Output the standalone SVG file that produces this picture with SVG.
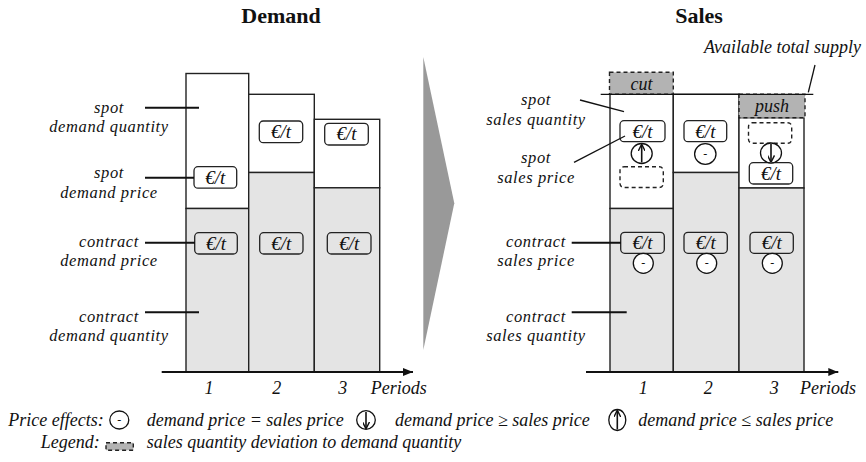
<svg xmlns="http://www.w3.org/2000/svg" width="866" height="462" viewBox="0 0 866 462">
<style>
text{font-family:"Liberation Serif","Times New Roman",serif;fill:#111}
.t{font-size:18px;font-style:italic}
.lb{font-size:16.5px;font-style:italic;letter-spacing:0.6px;text-anchor:middle}
.c{text-anchor:middle}
.h{font-size:22px;font-weight:bold;text-anchor:middle}
.w{fill:#fff;stroke:#222;stroke-width:1.4}
.g{fill:#e4e4e4;stroke:#222;stroke-width:1.4}
.eb{fill:none;stroke:#222;stroke-width:1.3}
.db{fill:none;stroke:#222;stroke-width:1.4;stroke-dasharray:4 3}
.dg{fill:#b3b3b3;stroke:#222;stroke-width:1.4;stroke-dasharray:4 3}
.eu{font-size:19px;font-style:italic;text-anchor:middle}
.ci{fill:#fff;stroke:#111;stroke-width:1.3}
.ax{stroke:#111;stroke-width:2;fill:none}
.ld{stroke:#111;stroke-width:2;fill:none}
.ln{stroke:#111;stroke-width:1.3;fill:none}
.ar{stroke:#111;stroke-width:1.6;fill:none}
.mn{font-size:12px;text-anchor:middle}
</style>
<defs>
<marker id="ah" viewBox="0 0 10 8" refX="10" refY="4" markerWidth="10" markerHeight="8" markerUnits="userSpaceOnUse" orient="auto"><path d="M0,0 L10,4 L0,8 Z" fill="#111"/></marker>
<marker id="sa" viewBox="0 0 8 8" refX="7" refY="4" markerWidth="7" markerHeight="7" markerUnits="userSpaceOnUse" orient="auto"><path d="M0,0 L8,4 L0,8" fill="none" stroke="#111" stroke-width="1.6"/></marker>
</defs>

<text class="h" x="281" y="23">Demand</text>
<text class="h" x="699" y="23">Sales</text>

<g id="demand-bar1">
<rect class="w" x="186" y="73.5" width="62.7" height="135"/>
<rect class="g" x="186" y="208.5" width="62.7" height="163.5"/>
<rect class="eb" x="194" y="166.7" width="42.7" height="21.5" rx="4"/>
<text class="eu" x="215.3" y="183.5">€/t</text>
<rect class="eb" x="194.7" y="232.7" width="42.6" height="21.3" rx="4"/>
<text class="eu" x="216" y="249.5">€/t</text>
</g>
<g id="demand-bar2">
<rect class="w" x="248.7" y="94.3" width="65.6" height="78.2"/>
<rect class="g" x="248.7" y="172.5" width="65.6" height="199.5"/>
<rect class="eb" x="259.3" y="121" width="43.4" height="21.7" rx="4"/>
<text class="eu" x="281" y="138">€/t</text>
<rect class="eb" x="259.7" y="232.7" width="43.3" height="21.3" rx="4"/>
<text class="eu" x="281.3" y="249.5">€/t</text>
</g>
<g id="demand-bar3">
<rect class="w" x="314.3" y="119.3" width="65.4" height="68.5"/>
<rect class="g" x="314.3" y="187.8" width="65.4" height="184.2"/>
<rect class="eb" x="324.7" y="123.3" width="43.6" height="21.7" rx="4"/>
<text class="eu" x="346.5" y="140.3">€/t</text>
<rect class="eb" x="327.3" y="232.7" width="43.7" height="21.3" rx="4"/>
<text class="eu" x="349.2" y="249.5">€/t</text>
</g>
<g id="demand-axis">
<line class="ax" x1="161.7" y1="372" x2="413" y2="372" marker-end="url(#ah)"/>
<text class="t c" x="209" y="394">1</text>
<text class="t c" x="276.7" y="394">2</text>
<text class="t c" x="342.7" y="394">3</text>
<text class="t" x="370.7" y="394">Periods</text>
</g>
<g id="demand-labels">
<text class="lb" x="109" y="113">spot</text>
<text class="lb" x="109" y="132">demand quantity</text>
<text class="lb" x="109" y="178">spot</text>
<text class="lb" x="109" y="198">demand price</text>
<text class="lb" x="109" y="246.5">contract</text>
<text class="lb" x="109" y="265.5">demand price</text>
<text class="lb" x="109" y="322">contract</text>
<text class="lb" x="109" y="341">demand quantity</text>
</g>

<g id="transition-arrow">
<polygon points="423.3,57 454.3,203.3 423.3,350" fill="#999"/>
</g>

<g id="sales-bar1">
<rect class="w" x="610" y="94.3" width="63.3" height="114.2"/>
<rect class="g" x="610" y="208.5" width="63.3" height="163.5"/>
<rect class="dg" x="609.5" y="72.3" width="63.8" height="22"/>
<text class="t c" x="641.4" y="90">cut</text>
<rect class="eb" x="620" y="120.7" width="45" height="21" rx="4"/>
<text class="eu" x="642.5" y="137.5">€/t</text>
<rect class="db" x="620" y="166.7" width="43.3" height="20.8" rx="4"/>
<rect class="eb" x="620.7" y="232.3" width="43.6" height="21" rx="4"/>
<text class="eu" x="642.5" y="249">€/t</text>
</g>
<g id="sales-bar2">
<rect class="w" x="673.3" y="94.3" width="65.7" height="78.2"/>
<rect class="g" x="673.3" y="172.5" width="65.7" height="199.5"/>
<rect class="eb" x="684" y="120.7" width="42.7" height="21" rx="4"/>
<text class="eu" x="705.4" y="137.5">€/t</text>
<rect class="eb" x="684" y="232.3" width="43.3" height="21" rx="4"/>
<text class="eu" x="705.7" y="249">€/t</text>
</g>
<g id="sales-bar3">
<rect class="w" x="739" y="117.7" width="65" height="70.3"/>
<rect class="g" x="739" y="188" width="65" height="184"/>
<rect class="dg" x="739" y="94.3" width="66" height="23.4"/>
<text class="t c" x="772" y="112">push</text>
<rect class="db" x="748.5" y="122.7" width="43.2" height="20.6" rx="4"/>
<rect class="eb" x="749.3" y="162.7" width="43.4" height="21.3" rx="4"/>
<text class="eu" x="771" y="179.5">€/t</text>
<rect class="eb" x="750" y="232.3" width="43.3" height="21" rx="4"/>
<text class="eu" x="771.7" y="249">€/t</text>
</g>
<g id="sales-effects">
<ellipse class="ci" cx="641.7" cy="153.5" rx="10.5" ry="10"/>
<line class="ar" x1="641.7" y1="162.5" x2="641.7" y2="145" marker-end="url(#sa)"/>
<ellipse class="ci" cx="705.3" cy="154" rx="10.7" ry="10.3"/>
<text class="mn" x="705.3" y="158">-</text>
<ellipse class="ci" cx="771" cy="153" rx="10.5" ry="10"/>
<line class="ar" x1="771" y1="144" x2="771" y2="161.5" marker-end="url(#sa)"/>
<circle class="ci" cx="643.3" cy="263.3" r="10"/>
<text class="mn" x="643.3" y="267.3">-</text>
<circle class="ci" cx="706.7" cy="263.3" r="10"/>
<text class="mn" x="706.7" y="267.3">-</text>
<circle class="ci" cx="772.3" cy="263.3" r="10"/>
<text class="mn" x="772.3" y="267.3">-</text>
</g>
<g id="supply">
<line class="ln" x1="600.7" y1="94.3" x2="813.3" y2="94.3" stroke-width="1.5"/>
<text class="t" x="861" y="53" text-anchor="end">Available total supply</text>
</g>
<g id="sales-axis">
<line class="ax" x1="586" y1="372" x2="838.3" y2="372" marker-end="url(#ah)"/>
<text class="t c" x="643.3" y="394">1</text>
<text class="t c" x="708.3" y="394">2</text>
<text class="t c" x="774.3" y="394">3</text>
<text class="t" x="800" y="394">Periods</text>
</g>
<g id="sales-labels">
<text class="lb" x="536" y="105">spot</text>
<text class="lb" x="536" y="125">sales quantity</text>
<text class="lb" x="536" y="162.5">spot</text>
<text class="lb" x="536" y="182.5">sales price</text>
<text class="lb" x="536" y="246.5">contract</text>
<text class="lb" x="536" y="265.5">sales price</text>
<text class="lb" x="536" y="322">contract</text>
<text class="lb" x="536" y="341">sales quantity</text>
</g>

<g id="connectors">
<line class="ld" x1="145" y1="107.7" x2="199" y2="107.7"/>
<line class="ld" x1="145" y1="177.7" x2="194" y2="177.7"/>
<line class="ld" x1="145" y1="242.7" x2="195" y2="242.7"/>
<line class="ld" x1="145" y1="312.3" x2="199" y2="312.3"/>
<line class="ln" x1="580" y1="100" x2="624" y2="111.7"/>
<line class="ln" x1="574" y1="162.3" x2="625" y2="136"/>
<line class="ld" x1="571.7" y1="242.7" x2="621" y2="242.7"/>
<line class="ld" x1="571.7" y1="312.3" x2="626.7" y2="312.3"/>
<line class="ln" x1="815" y1="65" x2="808.3" y2="92.3"/>
</g>

<g id="legend-effects">
<text class="t" x="8.3" y="426">Price effects:</text>
<ellipse class="ci" cx="119.3" cy="420" rx="9.5" ry="9"/>
<text class="mn" x="119.3" y="424">-</text>
<text class="t" x="146.7" y="426">demand price = sales price</text>
<ellipse class="ci" cx="366" cy="420" rx="9.3" ry="9.3"/>
<line class="ar" x1="366" y1="412" x2="366" y2="428" marker-end="url(#sa)"/>
<text class="t" x="395" y="426">demand price ≥ sales price</text>
<ellipse class="ci" cx="617.3" cy="420" rx="8.5" ry="10.5"/>
<line class="ar" x1="617.3" y1="429.5" x2="617.3" y2="411" marker-end="url(#sa)"/>
<text class="t" x="638.3" y="426">demand price ≤ sales price</text>
</g>
<g id="legend-quantity">
<text class="t" x="40.7" y="447.7">Legend:</text>
<rect class="dg" x="106" y="442.7" width="27.3" height="7.5" fill="#bbb"/>
<text class="t" x="146.7" y="447.7">sales quantity deviation to demand quantity</text>
</g>
</svg>
